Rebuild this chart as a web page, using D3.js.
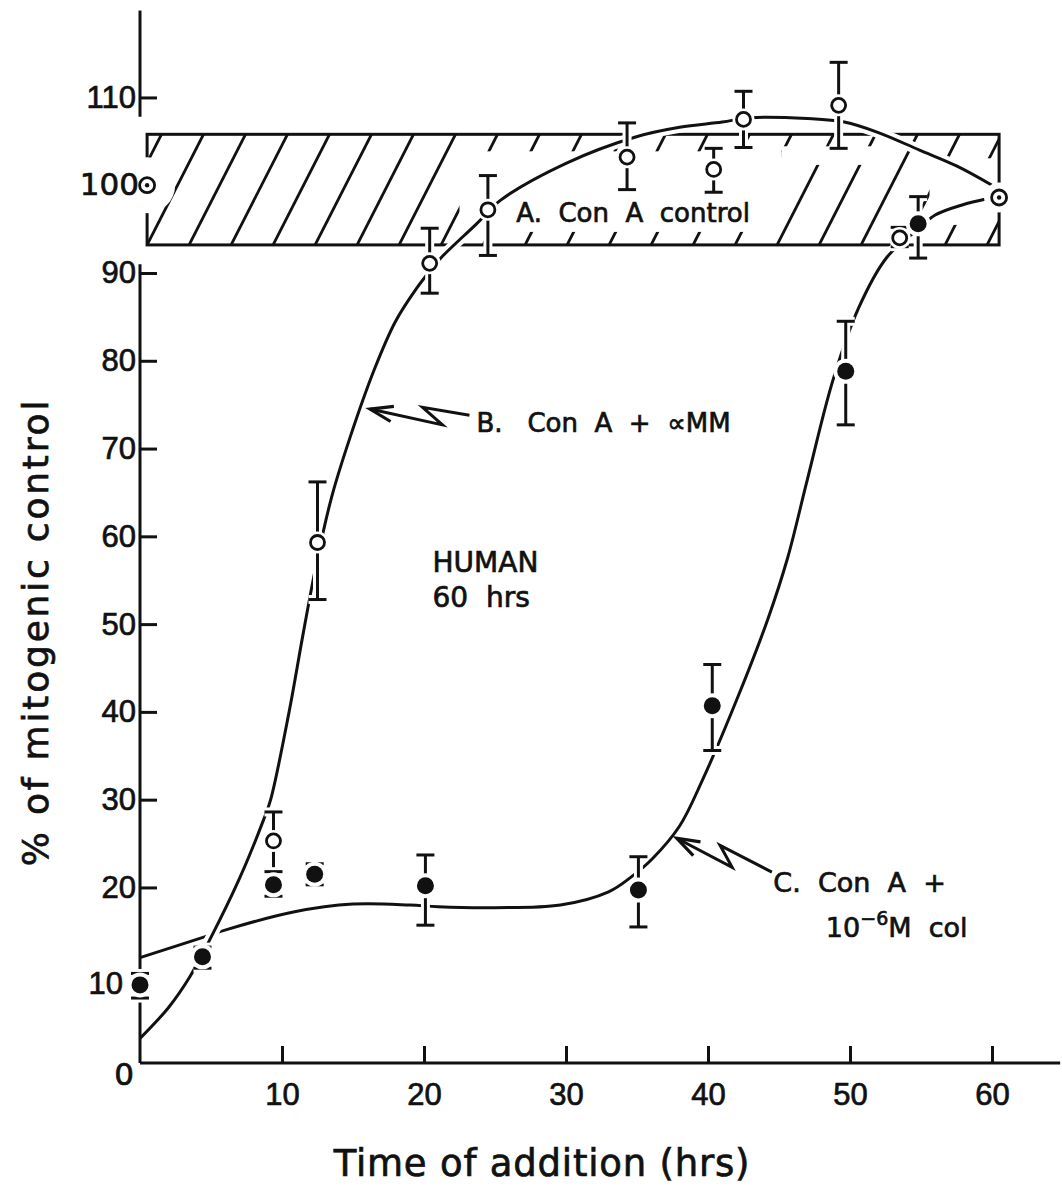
<!DOCTYPE html>
<meta charset="utf-8">
<style>
body { margin: 0; background: #fff; }
svg { font-family: "DejaVu Sans", sans-serif; }
svg text { fill: #111; stroke: #111; stroke-width: 0.7px; white-space: pre; }
.tick text { font-size: 31px; }
</style>
<svg width="1062" height="1192"></svg>
<script src="https://d3js.org/d3.v7.min.js"></script>
<script>
// A. Con A control : the two reference points and the +/- band
var ctlTime = [0.5, 60.5];
var ctlPct = [100, 98.6];
var bandTime = [0.5, 60.5];
var bandPct = [93.2, 105.8];

// B. Con A + aMM (open circles)
var bTime = [9.4, 12.5, 20.4, 24.5, 34.3, 40.4, 42.5, 49.2, 53.5];
var bPct  = [25.3, 59.3, 91.1, 97.2, 103.2, 101.8, 107.5, 109.1, 94];
var bHi   = [28.6, 66.2, 95.1, 101.1, 107.1, 104.2, 110.7, 114, 95.2];
var bLo   = [20.5, 52.8, 87.7, 92, 99.5, 99.2, 104.3, 104.2, 93];

// C. Con A + 10-6 M colcemid (filled circles)
var cTime = [0, 4.4, 9.4, 12.3, 20.1, 35.1, 40.3, 49.7, 54.8];
var cPct  = [8.9, 12.1, 20.3, 21.5, 20.2, 19.7, 40.7, 78.8, 95.6];
var cHi   = [10.2, 13.2, 21.8, 22.7, 23.7, 23.5, 45.4, 84.5, 98.7];
var cLo   = [7.4, 10.8, 19, 20.3, 15.7, 15.5, 35.6, 72.7, 91.7];

// hand drawn curves
var bCurveTime = [0, 2, 3.5, 4.9, 7, 8.7, 9.2, 10.5, 11.5, 12.5, 13.5, 14.8, 16.5, 18, 19.5, 20.5, 21.3, 23.7, 25.4, 30, 34.9, 38, 41, 43, 47, 49.6, 52, 54.9, 57.5, 60];
var bCurvePct  = [2.8, 6.3, 9.8, 14, 21, 27.7, 30, 40, 49, 57.5, 64.5, 71.3, 79, 84.5, 88.3, 90.4, 91.9, 95.6, 98.3, 102.5, 105.5, 106.6, 107.2, 107.7, 107.6, 107.2, 106, 104, 102.2, 100];
var cCurveTime = [0, 4.6, 6.1, 10.8, 15, 19, 21, 25, 29.6, 33, 34.6, 36.1, 38, 39.6, 42, 44.2, 45.6, 47, 48.8, 50.6, 52.6, 54.8, 56, 58, 59.5];
var cCurvePct  = [12, 14.4, 15.2, 17.2, 18.1, 18, 17.8, 17.7, 18, 19.5, 21.2, 23.3, 27, 32.2, 41.3, 50.5, 57.5, 66.5, 77.8, 86, 91.8, 95, 96.6, 97.8, 98.4];

var xTicks = [10, 20, 30, 40, 50, 60];
var yTicks = [10, 20, 30, 40, 50, 60, 70, 80, 90, 110];

var svg = d3.select("svg");
var ink = "#111";
var x = d3.scaleLinear().domain([0, 60]).range([140, 992]);
var y = d3.scaleLinear().domain([0, 90]).range([1063, 273]);

function zip(a, b) { return a.map(function(d, i) { return [d, b[i]]; }); }

// hatched band
var bx0 = x(bandTime[0]), bx1 = x(bandTime[1]), by0 = y(bandPct[1]), by1 = y(bandPct[0]);
svg.append("clipPath").attr("id", "band").append("rect")
    .attr("x", bx0).attr("y", by0).attr("width", bx1 - bx0).attr("height", by1 - by0);
var shift = 0.51 * (by1 - by0);
svg.append("g").attr("clip-path", "url(#band)")
  .selectAll("line").data(d3.range(bx0 - 84, bx1, 42)).join("line")
    .attr("x1", function(d) { return d; }).attr("y1", by1)
    .attr("x2", function(d) { return d + shift; }).attr("y2", by0)
    .attr("stroke", ink).attr("stroke-width", 2.8);
svg.append("rect")
    .attr("x", bx0).attr("y", by0).attr("width", bx1 - bx0).attr("height", by1 - by0)
    .attr("fill", "none").attr("stroke", ink).attr("stroke-width", 3);
// cleared areas inside the band (label, right end)
[[22.5, 45.2, 17, 13], [45.2, 52, 12, 80], [55.6, 60.1, 24, 20]].forEach(function(m) {
  svg.append("rect")
      .attr("x", x(m[0])).attr("y", by0 + m[2])
      .attr("width", x(m[1]) - x(m[0])).attr("height", by1 - by0 - m[2] - m[3])
      .attr("fill", "#fff");
});

// curves (white halo first so crossings show a gap)
var line = d3.line().x(function(d) { return x(d[0]); }).y(function(d) { return y(d[1]); })
    .curve(d3.curveCatmullRom.alpha(0.5));
[zip(cCurveTime, cCurvePct), zip(bCurveTime, bCurvePct)].forEach(function(pts) {
  svg.append("path").attr("d", line(pts)).attr("fill", "none")
      .attr("stroke", "#fff").attr("stroke-width", 11);
  svg.append("path").attr("d", line(pts)).attr("fill", "none")
      .attr("stroke", ink).attr("stroke-width", 3);
});

// axes
var yAxis = d3.axisLeft(y).tickValues(yTicks).tickSizeInner(-17).tickSizeOuter(0).tickPadding(4);
var gy = svg.append("g").attr("transform", "translate(" + x(0) + ",0)").call(yAxis);
gy.select(".domain").remove();
gy.selectAll(".tick line").attr("stroke", ink).attr("stroke-width", 3);
var t10 = gy.selectAll(".tick").filter(function(d) { return d === 10; });
t10.select("line").remove();
t10.select("text").attr("x", -17).attr("dy", "0.6em");
[[0, 91], [107.8, 119.9]].forEach(function(s) {
  svg.append("line").attr("x1", x(0)).attr("x2", x(0)).attr("y1", y(s[0])).attr("y2", y(s[1]))
      .attr("stroke", ink).attr("stroke-width", 3);
});
var xAxis = d3.axisBottom(x).tickValues(xTicks).tickSizeInner(-17).tickSizeOuter(0).tickPadding(20);
var gx = svg.append("g").attr("transform", "translate(0," + y(0) + ")").call(xAxis);
gx.select(".domain").remove();
gx.selectAll(".tick line").attr("stroke", ink).attr("stroke-width", 3);
svg.append("line").attr("x1", x(0)).attr("x2", x(64.8)).attr("y1", y(0)).attr("y2", y(0))
    .attr("stroke", ink).attr("stroke-width", 3);

// error bars
function bars(t, lo, hi) {
  var g = svg.append("g");
  t.forEach(function(d, i) {
    var cx = x(d), y0 = y(lo[i]), y1 = y(hi[i]);
    ["#fff", ink].forEach(function(c) {
      var w = c === ink ? 3 : 9;
      g.append("line").attr("x1", cx).attr("x2", cx).attr("y1", y0).attr("y2", y1)
          .attr("stroke", c).attr("stroke-width", w);
      [y0, y1].forEach(function(yy) {
        g.append("line").attr("x1", cx - 9).attr("x2", cx + 9).attr("y1", yy).attr("y2", yy)
            .attr("stroke", c).attr("stroke-width", w);
      });
    });
  });
}
bars(bTime, bLo, bHi);
bars(cTime, cLo, cHi);

// markers
function dots(t, v, r, filled, halo) {
  var g = svg.append("g");
  g.selectAll(".halo").data(t).join("circle").attr("class", "halo")
      .attr("cx", function(d) { return x(d); }).attr("cy", function(d, i) { return y(v[i]); })
      .attr("r", function(d, i) { return halo ? halo[i] : r + 4; }).attr("fill", "#fff");
  g.selectAll(".dot").data(t).join("circle").attr("class", "dot")
      .attr("cx", function(d) { return x(d); }).attr("cy", function(d, i) { return y(v[i]); })
      .attr("r", r).attr("fill", filled ? ink : "#fff")
      .attr("stroke", ink).attr("stroke-width", filled ? 0 : 2.8);
  return g;
}
dots(bTime, bPct, 7, false);
dots(cTime, cPct, 8.5, true);
var gc = dots(ctlTime, ctlPct, 7.5, false, [28, 15]);
gc.selectAll(".ctr").data(ctlTime).join("circle")
    .attr("cx", function(d) { return x(d); }).attr("cy", function(d, i) { return y(ctlPct[i]); })
    .attr("r", 2.2).attr("fill", ink);

// corner labels drawn after the markers so the halos do not cut them
svg.append("text").attr("x", x(0) - 16).attr("y", y(0) + 11).attr("dy", "0.35em")
    .attr("text-anchor", "middle").style("font-size", "31px").text("0");
svg.append("text").attr("x", x(0) - 1).attr("y", y(100)).attr("dy", "0.32em")
    .attr("text-anchor", "end").style("font-size", "31px").text("100");

// labels and arrows
function label(t, v, txt, size) {
  return svg.append("text").attr("x", x(t)).attr("y", y(v))
      .style("font-size", size + "px").text(txt);
}
function arrow(pts) {
  var p = pts.map(function(d) { return [x(d[0]), y(d[1])]; });
  svg.append("path").attr("d", d3.line()(p)).attr("fill", "none")
      .attr("stroke", ink).attr("stroke-width", 3);
  var a = p[p.length - 1], b = p[p.length - 2];
  var ang = Math.atan2(b[1] - a[1], b[0] - a[0]), L = 24, s = 0.33;
  var head = [[a[0] + L * Math.cos(ang + s), a[1] + L * Math.sin(ang + s)], a,
              [a[0] + L * Math.cos(ang - s), a[1] + L * Math.sin(ang - s)]];
  svg.append("path").attr("d", d3.line()(head)).attr("fill", "none")
      .attr("stroke", ink).attr("stroke-width", 3.2);
}

label(26.5, 95.8, "A.  Con  A  control", 26);
label(23.7, 71.9, "B.   Con  A  +  \u221dMM", 26);
arrow([[23.2, 73.8], [19.9, 74.7], [21.3, 72.7], [16.2, 74.5]]);
label(20.6, 55.9, "HUMAN", 28);
label(20.6, 51.9, "60  hrs", 28);
label(44.6, 19.5, "C.  Con  A  +", 27);
var t10e = label(48.3, 14.3, "10", 27);
t10e.append("tspan").attr("dy", -12).style("font-size", "19px").text("\u22126");
t10e.append("tspan").attr("dy", 12).text("M  col");
arrow([[44.5, 21.75], [40.85, 24.8], [41.7, 22.3], [37.8, 25.6]]);

// axis titles
svg.append("text").attr("x", 542).attr("y", 1176).attr("text-anchor", "middle")
    .style("font-size", "37px").style("letter-spacing", "0.8px").text("Time of addition (hrs)");
svg.append("text").attr("transform", "translate(48,632) rotate(-90)").attr("text-anchor", "middle")
    .style("font-size", "36px").style("letter-spacing", "2.8px")
    .text("% of mitogenic control");
</script>
